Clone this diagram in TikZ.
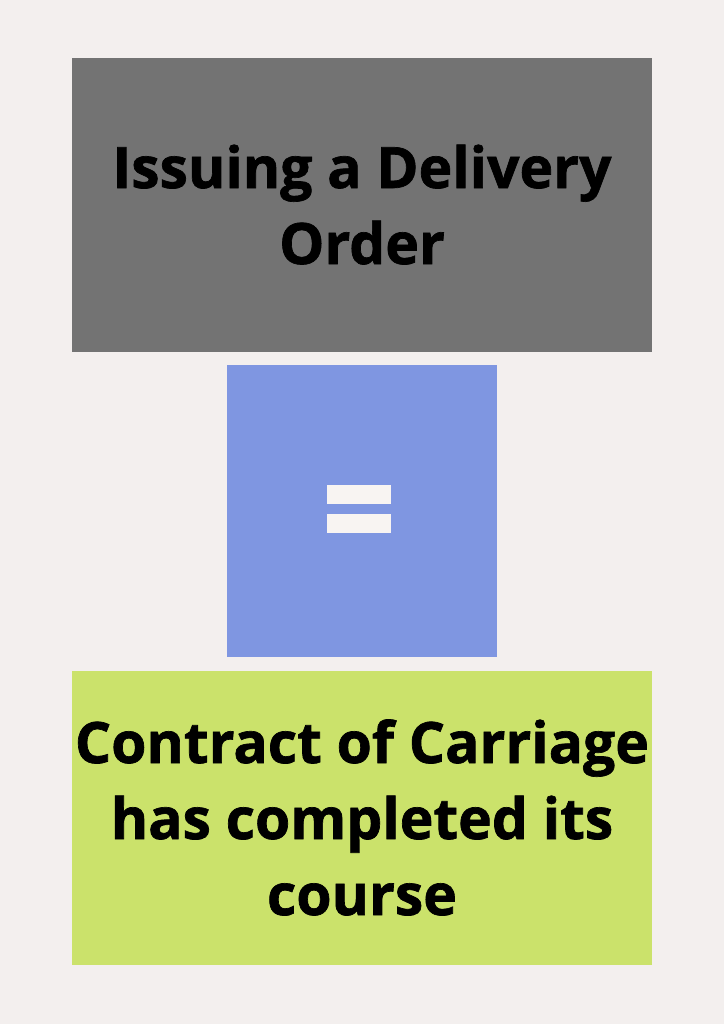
\documentclass[tikz,border=0pt]{standalone}
\usepackage{fontspec}
\setmainfont{Open Sans}[BoldFont={Open Sans Bold},BoldFeatures={FakeBold=1.2}]
\definecolor{bgc}{HTML}{F3EFEE}
\definecolor{grayc}{HTML}{737373}
\definecolor{bluec}{HTML}{7F96E1}
\definecolor{greenc}{HTML}{CBE26B}
\definecolor{barc}{HTML}{F8F4F2}
\begin{document}
\begin{tikzpicture}[x=1pt,y=-1pt,
  bigtext/.style={align=center,text=black,inner sep=0pt,anchor=base,font=\fontsize{57}{76}\selectfont\bfseries}]
\useasboundingbox (0,0) rectangle (724,1024);
\fill[bgc] (0,0) rectangle (724,1024);
\fill[grayc] (72,58) rectangle (652,352);
\fill[bluec] (227,365) rectangle (497,657);
\fill[greenc] (72,671) rectangle (652,965);
\fill[barc] (327,485) rectangle (391,504);
\fill[barc] (327,514) rectangle (391,533);
\node[bigtext] (top) at (362,264) {Issuing a Delivery\\Order};
\node[bigtext] (bot) at (362,915) {Contract of Carriage\\has completed its\\course};
\end{tikzpicture}
\end{document}
